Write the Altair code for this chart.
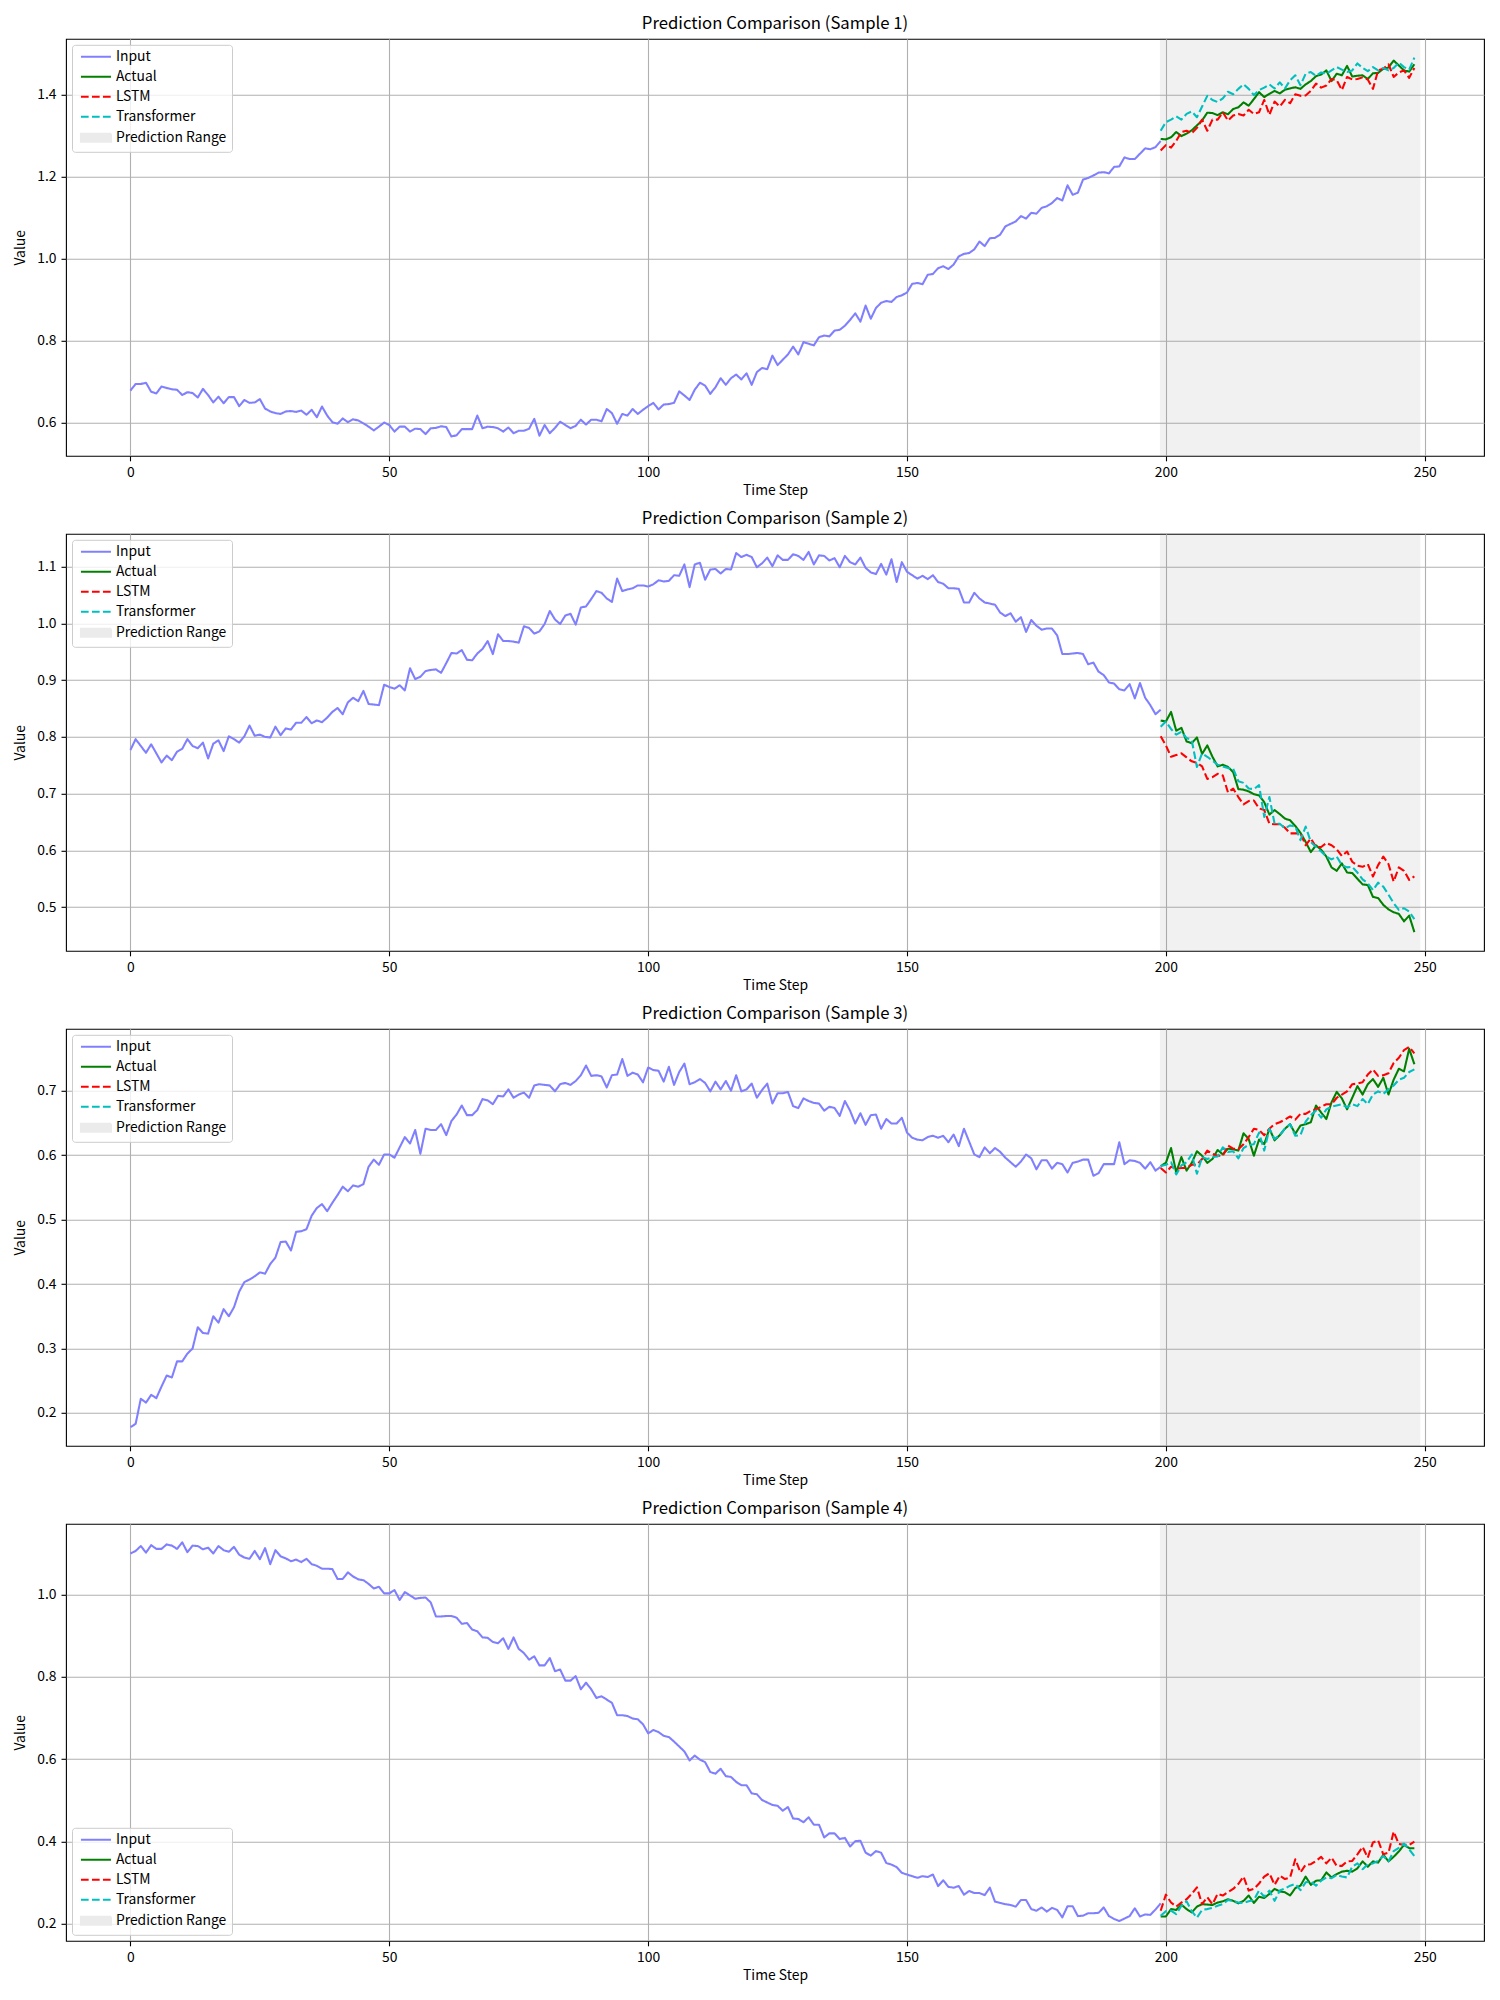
import altair as alt
import pandas as pd

FONT = "Noto Sans CJK JP"

# ---- series values -------------------------------------------------------
input_s1 = [
    0.679, 0.695, 0.695, 0.698, 0.676, 0.672, 0.689, 0.685, 0.682, 0.681,
    0.668, 0.675, 0.673, 0.662, 0.683, 0.668, 0.650, 0.664, 0.648, 0.663,
    0.663, 0.641, 0.656, 0.649, 0.650, 0.658, 0.635, 0.628, 0.624, 0.622,
    0.628, 0.629, 0.627, 0.630, 0.620, 0.632, 0.614, 0.640, 0.618, 0.602,
    0.598, 0.611, 0.602, 0.609, 0.606, 0.599, 0.591, 0.582, 0.591, 0.601,
    0.595, 0.579, 0.591, 0.591, 0.579, 0.586, 0.585, 0.573, 0.587, 0.588,
    0.592, 0.590, 0.567, 0.570, 0.585, 0.585, 0.585, 0.618, 0.587, 0.591,
    0.590, 0.587, 0.579, 0.589, 0.575, 0.581, 0.581, 0.586, 0.610, 0.569,
    0.595, 0.575, 0.588, 0.603, 0.595, 0.587, 0.593, 0.608, 0.596, 0.608,
    0.608, 0.604, 0.634, 0.624, 0.598, 0.622, 0.618, 0.634, 0.622, 0.632,
    0.641, 0.649, 0.633, 0.645, 0.646, 0.649, 0.677, 0.667, 0.656, 0.681,
    0.698, 0.691, 0.671, 0.687, 0.709, 0.693, 0.709, 0.718, 0.706, 0.721,
    0.693, 0.724, 0.734, 0.731, 0.764, 0.741, 0.754, 0.767, 0.786, 0.767,
    0.797, 0.793, 0.789, 0.809, 0.813, 0.811, 0.825, 0.827, 0.837, 0.851,
    0.867, 0.847, 0.886, 0.854, 0.880, 0.893, 0.897, 0.895, 0.907, 0.911,
    0.918, 0.939, 0.941, 0.938, 0.961, 0.963, 0.977, 0.982, 0.975, 0.986,
    1.006, 1.012, 1.014, 1.023, 1.042, 1.031, 1.050, 1.051, 1.059, 1.079,
    1.085, 1.091, 1.104, 1.098, 1.112, 1.110, 1.124, 1.128, 1.136, 1.148,
    1.142, 1.179, 1.156, 1.161, 1.193, 1.197, 1.203, 1.210, 1.211, 1.208,
    1.224, 1.225, 1.247, 1.243, 1.243, 1.256, 1.269, 1.267, 1.272, 1.287,
]
actual_s1 = [
    1.292, 1.291, 1.296, 1.309, 1.299, 1.305, 1.313, 1.325, 1.337, 1.356,
    1.355, 1.350, 1.357, 1.352, 1.365, 1.369, 1.381, 1.373, 1.389, 1.406,
    1.394, 1.402, 1.409, 1.403, 1.412, 1.415, 1.418, 1.414, 1.425, 1.433,
    1.445, 1.449, 1.459, 1.433, 1.451, 1.447, 1.470, 1.444, 1.446, 1.447,
    1.438, 1.452, 1.453, 1.463, 1.466, 1.483, 1.471, 1.459, 1.456, 1.474,
]
lstm_s1 = [
    1.264, 1.277, 1.271, 1.287, 1.309, 1.312, 1.306, 1.319, 1.339, 1.312,
    1.339, 1.339, 1.357, 1.337, 1.349, 1.353, 1.349, 1.363, 1.353, 1.357,
    1.387, 1.351, 1.383, 1.371, 1.387, 1.379, 1.401, 1.397, 1.398, 1.409,
    1.427, 1.417, 1.422, 1.438, 1.435, 1.411, 1.443, 1.437, 1.438, 1.442,
    1.437, 1.414, 1.459, 1.463, 1.474, 1.443, 1.454, 1.459, 1.441, 1.465,
]
transformer_s1 = [
    1.312, 1.333, 1.339, 1.347, 1.339, 1.353, 1.359, 1.345, 1.371, 1.397,
    1.387, 1.382, 1.391, 1.407, 1.401, 1.414, 1.425, 1.414, 1.399, 1.411,
    1.417, 1.425, 1.415, 1.430, 1.415, 1.435, 1.447, 1.423, 1.451, 1.455,
    1.446, 1.454, 1.451, 1.459, 1.467, 1.461, 1.455, 1.459, 1.476, 1.465,
    1.457, 1.467, 1.459, 1.465, 1.459, 1.465, 1.478, 1.467, 1.461, 1.490,
]

input_s2 = [
    0.777, 0.796, 0.784, 0.772, 0.787, 0.771, 0.755, 0.767, 0.759, 0.774,
    0.779, 0.796, 0.784, 0.780, 0.790, 0.762, 0.788, 0.794, 0.775, 0.801,
    0.796, 0.790, 0.801, 0.820, 0.802, 0.804, 0.800, 0.799, 0.818, 0.803,
    0.815, 0.813, 0.825, 0.825, 0.835, 0.824, 0.829, 0.826, 0.834, 0.844,
    0.851, 0.840, 0.861, 0.869, 0.863, 0.881, 0.858, 0.857, 0.856, 0.892,
    0.888, 0.885, 0.891, 0.882, 0.921, 0.902, 0.906, 0.916, 0.918, 0.919,
    0.913, 0.930, 0.948, 0.947, 0.953, 0.936, 0.935, 0.947, 0.955, 0.969,
    0.946, 0.981, 0.969, 0.969, 0.968, 0.966, 0.995, 0.992, 0.982, 0.986,
    0.999, 1.022, 1.007, 0.999, 1.014, 1.017, 0.998, 1.028, 1.030, 1.043,
    1.057, 1.054, 1.044, 1.038, 1.079, 1.057, 1.060, 1.062, 1.067, 1.067,
    1.065, 1.069, 1.076, 1.074, 1.075, 1.085, 1.084, 1.104, 1.064, 1.104,
    1.107, 1.077, 1.095, 1.096, 1.088, 1.096, 1.095, 1.124, 1.117, 1.121,
    1.117, 1.099, 1.106, 1.116, 1.101, 1.120, 1.112, 1.112, 1.122, 1.119,
    1.112, 1.126, 1.104, 1.120, 1.119, 1.111, 1.115, 1.099, 1.119, 1.108,
    1.104, 1.116, 1.098, 1.090, 1.087, 1.105, 1.086, 1.113, 1.073, 1.108,
    1.091, 1.085, 1.079, 1.084, 1.078, 1.085, 1.073, 1.070, 1.062, 1.062,
    1.061, 1.037, 1.037, 1.054, 1.044, 1.037, 1.035, 1.033, 1.019, 1.013,
    1.018, 1.003, 1.011, 0.985, 1.006, 0.996, 0.989, 0.991, 0.991, 0.979,
    0.946, 0.946, 0.947, 0.948, 0.946, 0.928, 0.931, 0.915, 0.909, 0.896,
    0.894, 0.884, 0.882, 0.893, 0.868, 0.895, 0.869, 0.856, 0.840, 0.848,
]
actual_s2 = [
    0.829, 0.827, 0.844, 0.811, 0.816, 0.792, 0.789, 0.799, 0.770, 0.785,
    0.765, 0.748, 0.751, 0.747, 0.738, 0.708, 0.707, 0.704, 0.699, 0.697,
    0.685, 0.663, 0.671, 0.664, 0.656, 0.653, 0.643, 0.631, 0.615, 0.597,
    0.609, 0.601, 0.589, 0.570, 0.564, 0.577, 0.561, 0.560, 0.550, 0.540,
    0.539, 0.518, 0.516, 0.504, 0.496, 0.491, 0.488, 0.475, 0.485, 0.456,
]
lstm_s2 = [
    0.801, 0.785, 0.765, 0.768, 0.771, 0.764, 0.757, 0.754, 0.748, 0.726,
    0.729, 0.735, 0.732, 0.702, 0.709, 0.694, 0.681, 0.687, 0.688, 0.674,
    0.671, 0.647, 0.646, 0.646, 0.640, 0.630, 0.630, 0.630, 0.609, 0.621,
    0.606, 0.606, 0.613, 0.609, 0.602, 0.590, 0.598, 0.580, 0.573, 0.571,
    0.576, 0.554, 0.574, 0.589, 0.576, 0.545, 0.570, 0.564, 0.548, 0.554,
]
transformer_s2 = [
    0.818, 0.827, 0.814, 0.804, 0.809, 0.798, 0.794, 0.747, 0.771, 0.765,
    0.758, 0.751, 0.748, 0.745, 0.744, 0.722, 0.719, 0.709, 0.708, 0.715,
    0.659, 0.694, 0.647, 0.647, 0.639, 0.644, 0.642, 0.618, 0.642, 0.615,
    0.606, 0.598, 0.589, 0.584, 0.589, 0.574, 0.570, 0.571, 0.561, 0.549,
    0.542, 0.530, 0.543, 0.536, 0.522, 0.507, 0.495, 0.498, 0.492, 0.479,
]

input_s3 = [
    0.178, 0.183, 0.222, 0.216, 0.228, 0.223, 0.241, 0.258, 0.255, 0.280,
    0.280, 0.292, 0.300, 0.333, 0.324, 0.323, 0.350, 0.340, 0.361, 0.350,
    0.364, 0.388, 0.403, 0.407, 0.412, 0.418, 0.416, 0.431, 0.441, 0.465,
    0.466, 0.452, 0.481, 0.482, 0.485, 0.506, 0.518, 0.524, 0.513, 0.526,
    0.538, 0.551, 0.544, 0.553, 0.551, 0.555, 0.582, 0.593, 0.585, 0.601,
    0.601, 0.596, 0.612, 0.628, 0.618, 0.639, 0.602, 0.641, 0.639, 0.639,
    0.648, 0.631, 0.653, 0.663, 0.677, 0.662, 0.662, 0.670, 0.687, 0.685,
    0.679, 0.692, 0.691, 0.702, 0.689, 0.694, 0.697, 0.689, 0.708, 0.710,
    0.709, 0.708, 0.699, 0.710, 0.712, 0.709, 0.715, 0.724, 0.739, 0.723,
    0.724, 0.722, 0.705, 0.724, 0.725, 0.749, 0.723, 0.728, 0.725, 0.713,
    0.736, 0.732, 0.731, 0.714, 0.737, 0.709, 0.729, 0.742, 0.710, 0.713,
    0.718, 0.712, 0.699, 0.714, 0.702, 0.715, 0.700, 0.724, 0.699, 0.702,
    0.711, 0.689, 0.701, 0.711, 0.680, 0.696, 0.696, 0.698, 0.676, 0.673,
    0.688, 0.684, 0.681, 0.680, 0.669, 0.675, 0.673, 0.661, 0.684, 0.669,
    0.649, 0.665, 0.647, 0.662, 0.663, 0.641, 0.656, 0.649, 0.649, 0.658,
    0.635, 0.627, 0.624, 0.623, 0.628, 0.630, 0.627, 0.630, 0.620, 0.632,
    0.614, 0.641, 0.621, 0.601, 0.597, 0.612, 0.603, 0.611, 0.605, 0.596,
    0.589, 0.582, 0.590, 0.601, 0.595, 0.578, 0.592, 0.592, 0.579, 0.588,
    0.586, 0.573, 0.588, 0.590, 0.593, 0.593, 0.568, 0.572, 0.586, 0.586,
    0.586, 0.620, 0.586, 0.592, 0.591, 0.588, 0.579, 0.589, 0.576, 0.582,
]
actual_s3 = [
    0.583, 0.588, 0.611, 0.573, 0.597, 0.576, 0.588, 0.606, 0.599, 0.588,
    0.594, 0.608, 0.601, 0.610, 0.609, 0.607, 0.634, 0.625, 0.599, 0.624,
    0.617, 0.641, 0.623, 0.631, 0.641, 0.648, 0.633, 0.646, 0.648, 0.651,
    0.677, 0.666, 0.656, 0.682, 0.698, 0.688, 0.671, 0.689, 0.707, 0.694,
    0.710, 0.718, 0.706, 0.720, 0.694, 0.717, 0.734, 0.730, 0.765, 0.741,
]
lstm_s3 = [
    0.580, 0.573, 0.582, 0.579, 0.580, 0.580, 0.585, 0.585, 0.594, 0.607,
    0.602, 0.599, 0.599, 0.615, 0.610, 0.609, 0.617, 0.628, 0.641, 0.639,
    0.631, 0.641, 0.648, 0.651, 0.655, 0.660, 0.655, 0.664, 0.664, 0.669,
    0.671, 0.675, 0.679, 0.679, 0.689, 0.694, 0.699, 0.710, 0.711, 0.713,
    0.725, 0.733, 0.723, 0.724, 0.727, 0.743, 0.751, 0.763, 0.768, 0.758,
]
transformer_s3 = [
    0.583, 0.585, 0.589, 0.570, 0.584, 0.589, 0.601, 0.571, 0.597, 0.594,
    0.597, 0.598, 0.612, 0.605, 0.606, 0.595, 0.611, 0.616, 0.617, 0.635,
    0.607, 0.641, 0.625, 0.631, 0.641, 0.648, 0.630, 0.631, 0.652, 0.662,
    0.669, 0.658, 0.671, 0.675, 0.677, 0.679, 0.674, 0.679, 0.676, 0.687,
    0.679, 0.694, 0.699, 0.695, 0.702, 0.708, 0.717, 0.720, 0.729, 0.733,
]

input_s4 = [
    1.100, 1.106, 1.118, 1.102, 1.120, 1.111, 1.111, 1.122, 1.119, 1.111,
    1.127, 1.103, 1.119, 1.118, 1.110, 1.114, 1.100, 1.118, 1.108, 1.104,
    1.116, 1.097, 1.090, 1.087, 1.106, 1.086, 1.113, 1.074, 1.108, 1.093,
    1.088, 1.081, 1.085, 1.079, 1.087, 1.074, 1.070, 1.063, 1.063, 1.062,
    1.038, 1.038, 1.054, 1.044, 1.037, 1.035, 1.026, 1.015, 1.019, 1.003,
    1.003, 1.011, 0.987, 1.006, 0.998, 0.990, 0.992, 0.993, 0.981, 0.947,
    0.947, 0.948, 0.948, 0.944, 0.929, 0.931, 0.915, 0.911, 0.896, 0.895,
    0.885, 0.882, 0.894, 0.868, 0.896, 0.868, 0.858, 0.842, 0.850, 0.828,
    0.828, 0.846, 0.814, 0.818, 0.791, 0.791, 0.802, 0.770, 0.786, 0.770,
    0.749, 0.753, 0.745, 0.737, 0.707, 0.707, 0.705, 0.699, 0.697, 0.685,
    0.663, 0.671, 0.666, 0.657, 0.654, 0.643, 0.631, 0.619, 0.597, 0.609,
    0.599, 0.593, 0.569, 0.565, 0.577, 0.559, 0.557, 0.545, 0.537, 0.537,
    0.517, 0.515, 0.501, 0.495, 0.489, 0.487, 0.475, 0.484, 0.456, 0.455,
    0.447, 0.459, 0.441, 0.441, 0.410, 0.420, 0.420, 0.406, 0.409, 0.388,
    0.401, 0.402, 0.373, 0.366, 0.377, 0.373, 0.348, 0.344, 0.338, 0.324,
    0.320, 0.316, 0.312, 0.316, 0.314, 0.320, 0.292, 0.306, 0.290, 0.288,
    0.292, 0.271, 0.280, 0.275, 0.275, 0.270, 0.288, 0.254, 0.251, 0.248,
    0.246, 0.242, 0.258, 0.258, 0.236, 0.232, 0.240, 0.230, 0.239, 0.234,
    0.216, 0.243, 0.243, 0.219, 0.220, 0.226, 0.226, 0.227, 0.240, 0.219,
    0.212, 0.207, 0.213, 0.219, 0.238, 0.218, 0.223, 0.222, 0.235, 0.250,
]
actual_s4 = [
    0.218, 0.218, 0.236, 0.234, 0.247, 0.236, 0.228, 0.242, 0.248, 0.247,
    0.246, 0.252, 0.255, 0.260, 0.256, 0.250, 0.256, 0.269, 0.251, 0.266,
    0.263, 0.273, 0.285, 0.279, 0.277, 0.269, 0.287, 0.293, 0.315, 0.295,
    0.305, 0.306, 0.325, 0.313, 0.321, 0.327, 0.329, 0.327, 0.335, 0.352,
    0.339, 0.352, 0.349, 0.368, 0.352, 0.363, 0.376, 0.392, 0.384, 0.384,
]
lstm_s4 = [
    0.232, 0.271, 0.252, 0.242, 0.252, 0.260, 0.273, 0.289, 0.248, 0.265,
    0.248, 0.273, 0.269, 0.277, 0.285, 0.297, 0.315, 0.281, 0.285, 0.298,
    0.315, 0.323, 0.295, 0.317, 0.309, 0.313, 0.357, 0.325, 0.344, 0.345,
    0.353, 0.363, 0.347, 0.361, 0.341, 0.341, 0.352, 0.353, 0.369, 0.387,
    0.361, 0.398, 0.403, 0.369, 0.373, 0.424, 0.394, 0.392, 0.392, 0.400,
]
transformer_s4 = [
    0.220, 0.231, 0.232, 0.224, 0.244, 0.255, 0.231, 0.215, 0.234, 0.236,
    0.239, 0.244, 0.248, 0.258, 0.256, 0.252, 0.251, 0.255, 0.258, 0.281,
    0.266, 0.281, 0.256, 0.281, 0.286, 0.293, 0.297, 0.282, 0.301, 0.303,
    0.293, 0.305, 0.313, 0.311, 0.319, 0.315, 0.313, 0.339, 0.347, 0.333,
    0.345, 0.347, 0.353, 0.365, 0.352, 0.377, 0.385, 0.395, 0.381, 0.365,
]

# ---- axes ----------------------------------------------------------------
PRED_START = 199          # first predicted step
SPAN = [199, 249]         # shaded prediction window
X_DOMAIN = [-12.45, 261.45]
X_TICKS = [0, 50, 100, 150, 200, 250]

Y_DOMAINS = [[0.520, 1.536], [0.423, 1.158], [0.149, 0.796], [0.159, 1.172]]
Y_TICKS = [
    [0.6, 0.8, 1.0, 1.2, 1.4],
    [0.5, 0.6, 0.7, 0.8, 0.9, 1.0, 1.1],
    [0.2, 0.3, 0.4, 0.5, 0.6, 0.7],
    [0.2, 0.4, 0.6, 0.8, 1.0],
]
LEGEND_POS = ["top-left", "top-left", "top-left", "bottom-left"]

SERIES = ["Input", "Actual", "LSTM", "Transformer", "Prediction Range"]
COLORS = ["#8080ff", "#008000", "#ff0000", "#00bfbf", "#ebebeb"]
DASHES = [[1, 0], [1, 0], [7.7, 3.3], [7.7, 3.3], [1, 0]]
LW = 2.08

W, H = 1418, 417

# legend handles: a 30 px line for the series, a small filled patch for the shaded window
HANDLE_LINE = "M-1,0H9"
HANDLE_PATCH = "M-1,-1.3H9V1.3H-1Z"


def build_panel(n, inp, act, lstm, trans, ydom, yticks, legend_orient):
    rows = [{"step": i, "value": v, "series": "Input"} for i, v in enumerate(inp)]
    for name, vals in (("Actual", act), ("LSTM", lstm), ("Transformer", trans)):
        rows += [{"step": PRED_START + j, "value": v, "series": name} for j, v in enumerate(vals)]
    df = pd.DataFrame(rows)
    span_df = pd.DataFrame({"start": [SPAN[0]], "end": [SPAN[1]]})

    x_scale = alt.Scale(domain=X_DOMAIN, nice=False, zero=False)
    x_axis = alt.Axis(values=X_TICKS, format="d", title="Time Step")
    y_scale = alt.Scale(domain=ydom, nice=False, zero=False)
    y_axis = alt.Axis(values=yticks, format=".1f", title="Value")

    legend = alt.Legend(
        title=None,
        orient=legend_orient,
        offset=6,
        symbolType={"expr": f"datum.value === 'Prediction Range' ? '{HANDLE_PATCH}' : '{HANDLE_LINE}'"},
        symbolSize=36,
        symbolStrokeWidth=LW,
        symbolFillColor={"expr": "datum.value === 'Prediction Range' ? '#ebebeb' : 'transparent'"},
        labelFont=FONT,
        labelFontSize=13.9,
        labelColor="black",
        labelOffset=25,
        rowPadding=5,
        padding=5,
        fillColor="rgba(255,255,255,0.8)",
        strokeColor="#cccccc",
        cornerRadius=3,
    )
    color = alt.Color("series:N", scale=alt.Scale(domain=SERIES, range=COLORS), legend=legend)
    dash = alt.StrokeDash("series:N", scale=alt.Scale(domain=SERIES, range=DASHES), legend=legend)

    span = alt.Chart(span_df).mark_rect(
        fill="#808080", opacity=0.1, stroke="#808080", strokeWidth=1.4
    ).encode(
        x=alt.X("start:Q", scale=x_scale, axis=x_axis),
        x2="end:Q",
    )
    layers = [span]
    for name in SERIES[:4]:
        layers.append(
            alt.Chart(df).transform_filter(alt.datum.series == name)
            .mark_line(strokeWidth=LW, strokeJoin="round", strokeCap="butt")
            .encode(
                x=alt.X("step:Q", scale=x_scale, axis=x_axis),
                y=alt.Y("value:Q", scale=y_scale, axis=y_axis),
                color=color,
                strokeDash=dash,
            )
        )
    return alt.layer(*layers).properties(
        width=W, height=H,
        title=f"Prediction Comparison (Sample {n})",
    )


panels = [
    build_panel(1, input_s1, actual_s1, lstm_s1, transformer_s1, Y_DOMAINS[0], Y_TICKS[0], LEGEND_POS[0]),
    build_panel(2, input_s2, actual_s2, lstm_s2, transformer_s2, Y_DOMAINS[1], Y_TICKS[1], LEGEND_POS[1]),
    build_panel(3, input_s3, actual_s3, lstm_s3, transformer_s3, Y_DOMAINS[2], Y_TICKS[2], LEGEND_POS[2]),
    build_panel(4, input_s4, actual_s4, lstm_s4, transformer_s4, Y_DOMAINS[3], Y_TICKS[3], LEGEND_POS[3]),
]

chart = (
    alt.vconcat(*panels, spacing=11)
    .resolve_scale(x="independent", y="independent", color="independent", strokeDash="independent")
    .resolve_legend(color="independent", strokeDash="independent")
    .properties(padding={"left": 13, "top": 14.8, "right": 5, "bottom": 5}, background="white")
    .configure_view(stroke="black", strokeWidth=1.1)
    .configure_axis(
        grid=True, gridColor="#b0b0b0", gridWidth=1.1,
        domain=False,
        ticks=True, tickColor="black", tickWidth=1.1, tickSize=5,
        labelFont=FONT, labelFontSize=13.9, labelColor="black", labelPadding=5,
        titleFont=FONT, titleFontSize=13.9, titleFontWeight="normal", titleColor="black",
    )
    .configure_axisX(titlePadding=4)
    .configure_axisY(titlePadding=9)
    .configure_title(font=FONT, fontSize=16.7, fontWeight="normal", color="black", anchor="middle", offset=5.5)
)

chart.save("out.html", embed_options={"renderer": "svg", "actions": False})
